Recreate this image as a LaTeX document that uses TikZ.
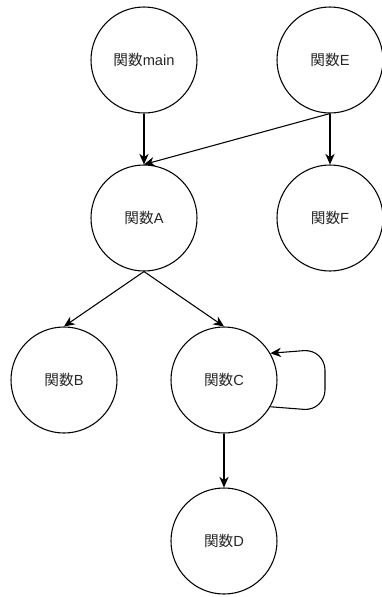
\documentclass[tikz,border=0pt]{standalone}
\usepackage{fontspec}
\setmainfont{Liberation Sans}
\newfontfamily\cjk{Noto Sans CJK JP}
\usetikzlibrary{arrows.meta}
\newcommand{\kansu}{{\cjk 関数}}
\begin{document}
\begin{tikzpicture}[x=0.75pt,y=-0.75pt,
  fn/.style={draw=black,line width=0.8pt,circle,minimum size=79.5pt,inner sep=0pt,font=\fontsize{11}{13}\selectfont,text=black!85},
  arr/.style={draw=black,line width=0.8pt,-{Stealth[length=8pt,width=7pt,inset=2.5pt]}}]
\useasboundingbox (0,0) rectangle (382,597);
\node[fn] (main) at (144,60) {\kansu main};
\node[fn] (E) at (330,60) {\kansu E};
\node[fn] (A) at (144,218) {\kansu A};
\node[fn] (F) at (330,218) {\kansu F};
\node[fn] (B) at (64,380) {\kansu B};
\node[fn] (C) at (224,380) {\kansu C};
\node[fn] (D) at (224,541) {\kansu D};
\coordinate (l1) at (325,411);
\coordinate (l2) at (325,349);
\draw[arr] (main.south) -- (A.north);
\draw[arr] (E.south) -- (A.north);
\draw[arr] (E.south) -- (F.north);
\draw[arr] (A.south) -- (B.north);
\draw[arr] (A.south) -- (C.north);
\draw[arr] (C.south) -- (D.north);
\draw[arr,rounded corners=16pt] (C.-30) -- (l1) -- (l2) -- (C.30);
\end{tikzpicture}
\end{document}
